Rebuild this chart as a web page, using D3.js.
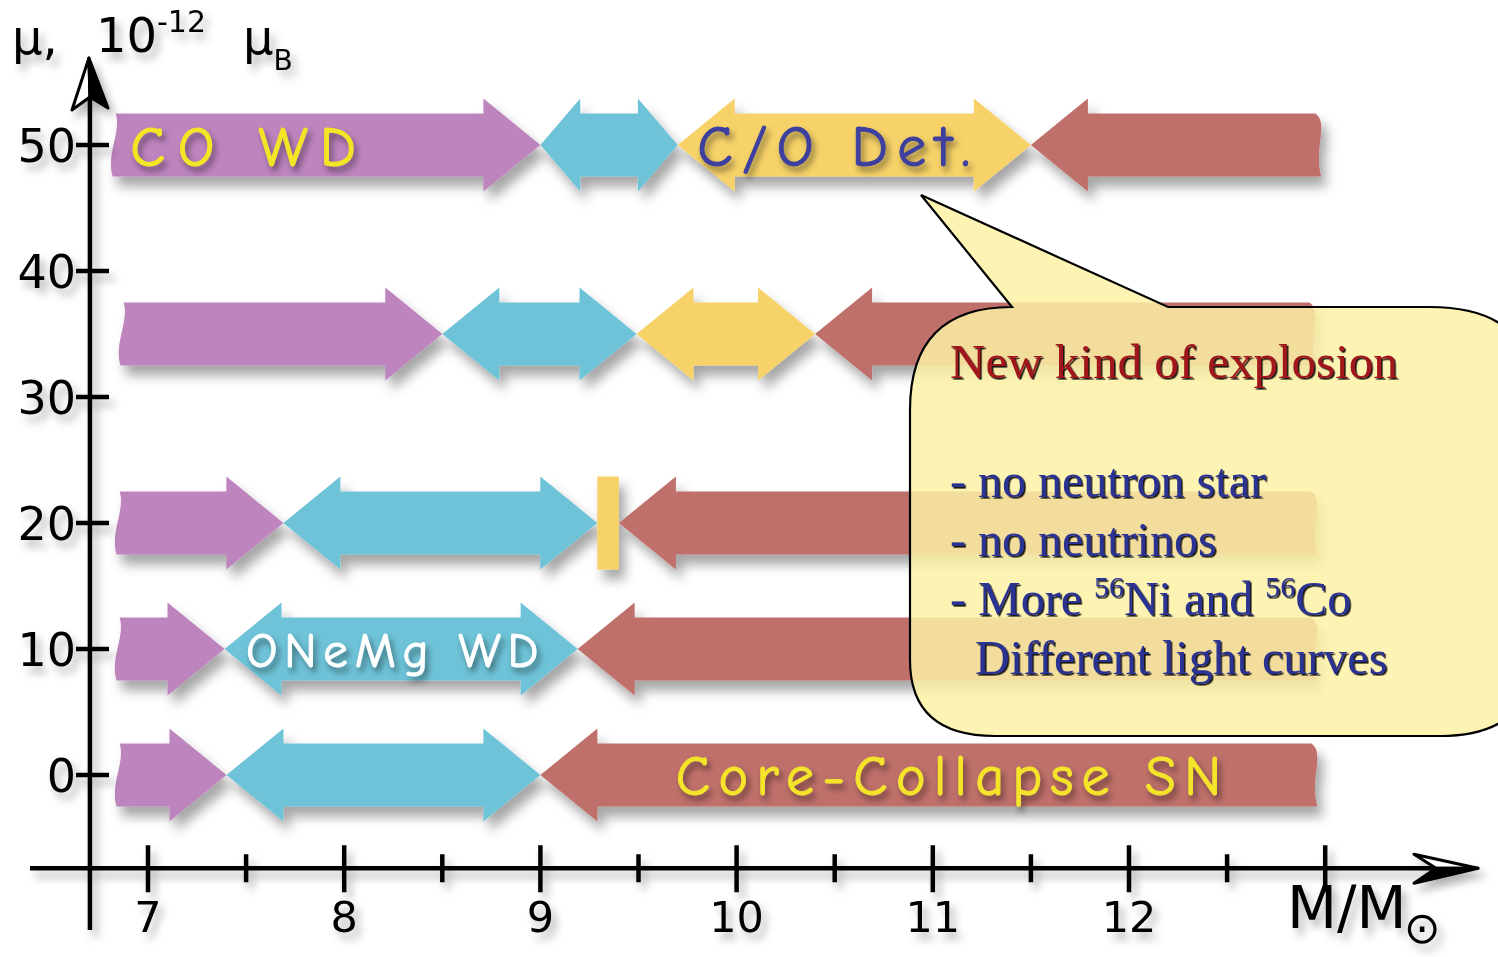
<!DOCTYPE html>
<html>
<head>
<meta charset="utf-8">
<script src="https://cdn.jsdelivr.net/npm/d3@7"></script>
<style>
  html, body { margin: 0; padding: 0; background: #ffffff; }
  svg { display: block; }
</style>
</head>
<body>
<svg id="chart" width="1498" height="957"></svg>
<script>
// ---------------- data ----------------
const rowMu      = [0, 10, 20, 35, 50];                    // magnetic moment, 10^-12 mu_B
const wdStart    = [6.84, 6.84, 6.84, 6.86, 6.82];         // start of CO WD (purple)
const coWdEnd    = [7.40, 7.39, 7.69, 8.50, 9.00];         // CO WD -> ONeMg WD
const oneMgEnd   = [9.00, 9.19, 9.29, 9.49, 9.70];         // ONeMg WD -> C/O detonation
const coDetEnd   = [9.00, 9.19, 9.40, 10.40, 11.50];       // C/O detonation -> core collapse
const ccsnEnd    = [12.96, 12.96, 12.96, 12.95, 12.98];    // end of core-collapse SN
const xTicksMajor = [7, 8, 9, 10, 11, 12, 13];
const xTickLabels = ["7", "8", "9", "10", "11", "12", ""];
const xTicksMinor = [7.5, 8.5, 9.5, 10.5, 11.5, 12.5];
const yTicks      = [0, 10, 20, 30, 40, 50];
const labelText  = ["CO WD", "C/O Det.", "ONeMg WD", "Core-Collapse SN"];
const labelRow   = [50, 50, 10, 0];
const labelStart = [6.91, 9.80, 7.50, 9.69];
const labelEnd   = [8.06, 11.19, 8.99, 12.47];
const bubbleLines = ["- no neutron star", "- no neutrinos"];

// ---------------- layout ----------------
const svg = d3.select("#chart");
const x = d3.scaleLinear().domain([7, 12]).range([148, 1129]);
const y = d3.scaleLinear().domain([0, 50]).range([775, 145]);
const axisX0 = x(6.704), axisY0 = y(-7.4);

const colors = { wd: "#bd84bd", one: "#6ec3d8", det: "#f6d267", cc: "#bf6f6a" };

const defs = svg.append("defs");
const sh = defs.append("filter").attr("id", "shadow").attr("x", "-10%").attr("y", "-30%").attr("width", "130%").attr("height", "180%");
sh.append("feDropShadow").attr("dx", 6).attr("dy", 10).attr("stdDeviation", 6).attr("flood-color", "#000").attr("flood-opacity", 0.35);
const sh2 = defs.append("filter").attr("id", "soft").attr("x", "-20%").attr("y", "-40%").attr("width", "150%").attr("height", "200%");
sh2.append("feDropShadow").attr("dx", 5).attr("dy", 7).attr("stdDeviation", 4).attr("flood-color", "#000").attr("flood-opacity", 0.3);
const sh3 = defs.append("filter").attr("id", "txt").attr("x", "-10%").attr("y", "-30%").attr("width", "130%").attr("height", "170%");
sh3.append("feDropShadow").attr("dx", 3).attr("dy", 5).attr("stdDeviation", 3).attr("flood-color", "#000").attr("flood-opacity", 0.45);
const sh4 = defs.append("filter").attr("id", "serif").attr("x", "-5%").attr("y", "-20%").attr("width", "110%").attr("height", "150%");
sh4.append("feDropShadow").attr("dx", 1.6).attr("dy", 1.6).attr("stdDeviation", 0.2).attr("flood-color", "#000").attr("flood-opacity", 0.9);

// ---------------- arrows ----------------
const h = 31.5, H = 46.5;
function headLen(w) { return w < 150 ? w * 0.29 : 57; }
function arrowPath(x0, x1, cy, type) {
  const w = x1 - x0;
  if (type === "right") {
    const L = 57;
    return `M${x0},${cy + h} C${x0 - 7},${cy + h * 0.3} ${x0 + 9},${cy - h * 0.4} ${x0 + 3},${cy - h}` +
      ` L${x1 - L},${cy - h} L${x1 - L},${cy - H} L${x1},${cy} L${x1 - L},${cy + H} L${x1 - L},${cy + h} Z`;
  }
  if (type === "left") {
    const L = 57;
    return `M${x0},${cy} L${x0 + L},${cy - H} L${x0 + L},${cy - h} L${x1 - 6},${cy - h}` +
      ` C${x1 + 8},${cy - h * 0.7} ${x1 - 8},${cy + h * 0.1} ${x1},${cy + h}` +
      ` L${x0 + L},${cy + h} L${x0 + L},${cy + H} Z`;
  }
  if (w < 60) {
    return `M${x0},${cy - H} L${x1},${cy - H} L${x1},${cy + H} L${x0},${cy + H} Z`;
  }
  const L = headLen(w);
  return `M${x0},${cy} L${x0 + L},${cy - H} L${x0 + L},${cy - h} L${x1 - L},${cy - h} L${x1 - L},${cy - H}` +
    ` L${x1},${cy} L${x1 - L},${cy + H} L${x1 - L},${cy + h} L${x0 + L},${cy + h} L${x0 + L},${cy + H} Z`;
}

const segs = [];
rowMu.forEach((mu, i) => {
  segs.push({ mu, a: wdStart[i], b: coWdEnd[i], type: "right", c: colors.wd });
  if (oneMgEnd[i] > coWdEnd[i]) segs.push({ mu, a: coWdEnd[i], b: oneMgEnd[i], type: "double", c: colors.one });
  if (coDetEnd[i] > oneMgEnd[i]) segs.push({ mu, a: oneMgEnd[i], b: coDetEnd[i], type: "double", c: colors.det });
  segs.push({ mu, a: coDetEnd[i], b: ccsnEnd[i], type: "left", c: colors.cc });
});

svg.append("g").attr("filter", "url(#shadow)")
  .selectAll("path").data(segs).join("path")
  .attr("d", d => arrowPath(x(d.a), x(d.b), y(d.mu), d.type))
  .attr("fill", d => d.c);

// ---------------- arrow labels ----------------
const labelStyle = [
  { fill: "#f4e625", size: 57 },
  { fill: "#3c3f9e", size: 58 },
  { fill: "#ffffff", size: 49 },
  { fill: "#f4e52a", size: 56 }
];
const lg = svg.append("g").attr("filter", "url(#txt)");
labelText.forEach((t, i) => {
  lg.append("text")
    .attr("x", x(labelStart[i]))
    .attr("y", y(labelRow[i]))
    .attr("dy", "0.36em")
    .attr("textLength", x(labelEnd[i]) - x(labelStart[i]))
    .attr("lengthAdjust", "spacing")
    .attr("font-family", "'Comic Sans MS','Comic Neue','DejaVu Sans',sans-serif")
    .attr("font-size", labelStyle[i].size)
    .attr("fill", labelStyle[i].fill)
    .attr("stroke", labelStyle[i].fill)
    .attr("stroke-width", 1)
    .text(t);
});

// ---------------- axes ----------------
const ax = svg.append("g").attr("filter", "url(#soft)");
ax.append("line").attr("x1", 30).attr("x2", 1445).attr("y1", axisY0).attr("y2", axisY0)
  .attr("stroke", "#000").attr("stroke-width", 4.5);
ax.append("line").attr("x1", axisX0).attr("x2", axisX0).attr("y1", 930).attr("y2", 95)
  .attr("stroke", "#000").attr("stroke-width", 4.5);
ax.selectAll(".xmaj").data(xTicksMajor).join("line")
  .attr("x1", d => x(d)).attr("x2", d => x(d)).attr("y1", axisY0 - 23).attr("y2", axisY0 + 24)
  .attr("stroke", "#000").attr("stroke-width", 4.5);
ax.selectAll(".xmin").data(xTicksMinor).join("line")
  .attr("x1", d => x(d)).attr("x2", d => x(d)).attr("y1", axisY0 - 14).attr("y2", axisY0 + 14)
  .attr("stroke", "#000").attr("stroke-width", 4.5);
ax.selectAll(".ytk").data(yTicks).join("line")
  .attr("x1", 76).attr("x2", 109).attr("y1", d => y(d)).attr("y2", d => y(d))
  .attr("stroke", "#000").attr("stroke-width", 4.5);
const ytip = [axisX0 - 1, 58];
ax.append("path").attr("d", `M${ytip[0]},${ytip[1]} L72,110 L${axisX0},97 Z`).attr("fill", "#fff").attr("stroke", "#000").attr("stroke-width", 3).attr("stroke-linejoin", "round");
ax.append("path").attr("d", `M${ytip[0]},${ytip[1]} L108,108 L${axisX0},97 Z`).attr("fill", "#000").attr("stroke", "#000").attr("stroke-width", 3).attr("stroke-linejoin", "round");
ax.append("path").attr("d", `M1478,${axisY0} L1414,${axisY0 - 14} L1436,${axisY0} Z`).attr("fill", "#fff").attr("stroke", "#000").attr("stroke-width", 3).attr("stroke-linejoin", "round");
ax.append("path").attr("d", `M1478,${axisY0} L1414,${axisY0 + 15} L1436,${axisY0} Z`).attr("fill", "#000").attr("stroke", "#000").attr("stroke-width", 3).attr("stroke-linejoin", "round");

const axisFont = "'DejaVu Sans','Lato',sans-serif";
ax.selectAll(".xl").data(xTicksMajor).join("text")
  .attr("x", d => x(d)).attr("y", 932)
  .attr("text-anchor", "middle").attr("font-family", axisFont).attr("font-size", 43)
  .attr("fill", "#000").text((d, i) => xTickLabels[i]);
ax.selectAll(".yl").data(yTicks).join("text")
  .attr("x", 76).attr("y", d => y(d)).attr("dy", "0.36em")
  .attr("text-anchor", "end").attr("font-family", axisFont).attr("font-size", 46)
  .attr("fill", "#000").text(d => d);

const xt = ax.append("text").attr("x", 1287).attr("y", 928).attr("font-family", axisFont).attr("font-size", 58).attr("fill", "#000");
xt.append("tspan").text("M/M");
xt.append("tspan").attr("font-size", 44).attr("dy", 15).attr("dx", -3).text("⊙");

ax.append("text").attr("x", 12).attr("y", 54).attr("font-family", axisFont).attr("font-size", 48).attr("fill", "#000").text("μ,");
ax.append("text").attr("x", 96).attr("y", 52).attr("font-family", axisFont).attr("font-size", 48).attr("fill", "#000").text("10");
ax.append("text").attr("x", 157).attr("y", 32).attr("font-family", axisFont).attr("font-size", 30).attr("fill", "#000").text("-12");
const mb = ax.append("text").attr("x", 243).attr("y", 54).attr("font-family", axisFont).attr("font-size", 48).attr("fill", "#000");
mb.append("tspan").text("μ");
mb.append("tspan").attr("font-size", 28).attr("dy", 16).text("B");

// ---------------- callout ----------------
const bubble = `M1012,307 L921,195 L1168,307 L1430,307 Q1535,307 1535,400 L1535,650 Q1535,736 1440,736` +
  ` L995,736 Q910,736 910,660 L910,410 Q910,307 1012,307 Z`;
svg.append("path").attr("d", bubble)
  .attr("fill", "#fdf2a6").attr("fill-opacity", 0.84)
  .attr("stroke", "#000").attr("stroke-width", 2.2).attr("stroke-linejoin", "miter");

const serif = "'Liberation Serif','Times New Roman',serif";
const bt = svg.append("g").attr("filter", "url(#serif)").attr("font-family", serif).attr("font-size", 48);
bt.append("text").attr("x", 950).attr("y", 378).attr("font-size", 49).attr("fill", "#a0191b").text("New kind of explosion");
bubbleLines.forEach((t, i) => {
  bt.append("text").attr("x", 950).attr("y", 497 + i * 59).attr("fill", "#2b3192").text(t);
});
const l3 = bt.append("text").attr("x", 950).attr("y", 615).attr("fill", "#2b3192");
l3.append("tspan").text("- More ");
l3.append("tspan").attr("font-size", 30).attr("dy", -18).text("56");
l3.append("tspan").attr("dy", 18).text("Ni and ");
l3.append("tspan").attr("font-size", 30).attr("dy", -18).text("56");
l3.append("tspan").attr("dy", 18).text("Co");
bt.append("text").attr("x", 975).attr("y", 674).attr("fill", "#2b3192").text("Different light curves");
</script>
</body>
</html>
